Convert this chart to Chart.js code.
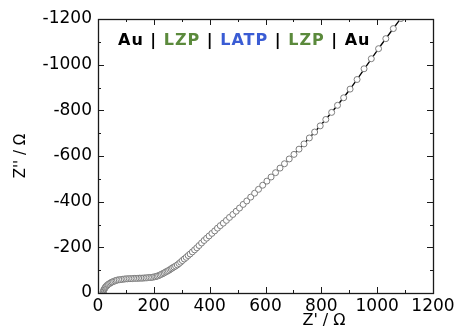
<!DOCTYPE html>
<html lang="en">
<head>
<meta charset="UTF-8">
<title>Nyquist plot</title>
<script src="https://cdn.jsdelivr.net/npm/chart.js"></script>
<style>
    html, body { margin: 0; padding: 0; background: #fff; }
    #wrap { width: 456px; height: 328px; }
</style>
</head>
<body>
<div id="wrap"><canvas id="nyquist" width="456" height="328"></canvas></div>
<script>
    // measured points, Z' (ohm)
    const zReal = [
        18, 19, 20, 21, 23, 25, 27, 29, 32, 35, 38, 42, 46, 50, 55, 60, 65, 70, 76, 82,
        88, 94, 100, 106, 112, 118, 124, 130, 136, 142, 148, 154, 160, 166, 172, 178, 184, 190, 196, 202,
        207, 212, 217, 222, 227, 232, 237, 242, 247, 252, 257, 262, 267, 272, 278, 284, 290, 296,
        302, 309, 316, 323, 330, 338, 346, 354, 362, 371, 380, 389, 398, 408, 418, 428, 438, 449, 460, 471, 483, 495,
        507, 520, 533, 547, 561, 575, 590, 605, 620, 636, 652, 668, 685,
        702, 720, 738, 757, 776, 796, 816, 837, 858, 880,
        903, 928, 953, 979, 1005, 1031, 1058, 1085
    ];
    // measured points, Z'' (ohm)
    const zImag = [
        -2, -6, -10, -14, -18, -22, -26, -29, -33, -36, -39, -42, -45, -48, -50, -53, -55, -57, -58, -59,
        -60, -61, -62, -62, -63, -63, -63, -64, -64, -64, -65, -65, -65, -66, -66, -67, -68, -68, -69, -71,
        -72, -74, -76, -79, -82, -85, -88, -92, -95, -98, -102, -106, -110, -114, -118, -123, -129, -135,
        -142, -149, -156, -164, -171, -180, -189, -198, -208, -219, -230, -240, -250, -261, -272, -284, -295, -306, -318, -331, -344, -358,
        -372, -388, -403, -420, -437, -454, -472, -490, -508, -527, -547, -566, -587,
        -607, -630, -653, -679, -705, -732, -760, -791, -822, -855,
        -893, -935, -982, -1026, -1070, -1114, -1158, -1202
    ];
    // fitted curve
    const fitReal = [300, 420, 500, 600, 700, 800, 900, 1000, 1100];
    const fitImag = [-140, -274, -364, -484, -605, -738, -888, -1062, -1228];

    const xTicks = [0, 200, 400, 600, 800, 1000, 1200];
    const yTicks = [-1200, -1000, -800, -600, -400, -200, 0];

    const cellLabel = [
        ['Au', '#000000'], [' | ', '#000000'], ['LZP', '#5b8a3c'], [' | ', '#000000'],
        ['LATP', '#3a5cd4'], [' | ', '#000000'], ['LZP', '#5b8a3c'], [' | ', '#000000'], ['Au', '#000000']
    ];

    const FONT = "'DejaVu Sans', sans-serif";

    const measured = zReal.map((v, i) => ({ x: v, y: zImag[i] }));
    const fitted = fitReal.map((v, i) => ({ x: v, y: fitImag[i] }));

    // frame with inward ticks on all four sides, plus the text bits
    const framePlugin = {
        id: 'frame',
        afterDraw(chart) {
            const ctx = chart.ctx;
            const a = chart.chartArea;
            const xs = chart.scales.x, ys = chart.scales.y;
            ctx.save();
            ctx.strokeStyle = '#1a1a1a';
            ctx.lineWidth = 1.3;
            ctx.strokeRect(a.left + 0.5, a.top + 0.5, a.right - a.left, a.bottom - a.top);

            ctx.lineWidth = 1;
            ctx.beginPath();
            for (let v = xTicks[0]; v <= xTicks[xTicks.length - 1]; v += 100) {
                const len = v % 200 === 0 ? 6 : 3;
                const px = Math.round(xs.getPixelForValue(v)) + 0.5;
                ctx.moveTo(px, a.bottom); ctx.lineTo(px, a.bottom - len);
                ctx.moveTo(px, a.top); ctx.lineTo(px, a.top + len);
            }
            for (let v = yTicks[0]; v <= yTicks[yTicks.length - 1]; v += 100) {
                const len = v % 200 === 0 ? 6 : 3;
                const py = Math.round(ys.getPixelForValue(v)) + 0.5;
                ctx.moveTo(a.left, py); ctx.lineTo(a.left + len, py);
                ctx.moveTo(a.right, py); ctx.lineTo(a.right - len, py);
            }
            ctx.stroke();

            // cell stack label
            ctx.font = 'bold 16px ' + FONT;
            ctx.textBaseline = 'alphabetic';
            if ('letterSpacing' in ctx) ctx.letterSpacing = '1px';
            let tx = a.left + 20;
            cellLabel.forEach(([t, c]) => {
                ctx.fillStyle = c;
                ctx.fillText(t, tx, a.top + 26);
                tx += ctx.measureText(t).width;
            });
            if ('letterSpacing' in ctx) ctx.letterSpacing = '0px';

            // x axis title sits right of centre in the original
            ctx.font = '16px ' + FONT;
            ctx.fillStyle = '#000';
            ctx.textAlign = 'center';
            ctx.textBaseline = 'middle';
            ctx.fillText("Z' / \u03A9", a.left + 226, 321);
            ctx.restore();
        }
    };

    new Chart(document.getElementById('nyquist'), {
        type: 'scatter',
        data: {
            datasets: [
                {
                    label: 'data',
                    data: measured,
                    order: 0,
                    pointStyle: 'circle',
                    pointRadius: 3,
                    pointBorderWidth: 1,
                    pointBorderColor: '#7d7d7d',
                    pointBackgroundColor: '#ffffff',
                    showLine: false
                },
                {
                    label: 'fit',
                    data: fitted,
                    order: 1,
                    showLine: true,
                    tension: 0.4,
                    borderColor: '#000000',
                    borderWidth: 1.3,
                    pointRadius: 0
                }
            ]
        },
        options: {
            responsive: false,
            animation: false,
            layout: { padding: { top: 19, right: 23, left: 0, bottom: 0 } },
            plugins: {
                legend: { display: false },
                tooltip: { enabled: false }
            },
            scales: {
                x: {
                    type: 'linear',
                    min: 0,
                    max: 1200,
                    afterBuildTicks: s => { s.ticks = xTicks.map(v => ({ value: v })); },
                    afterFit: s => {
                        s.height = 35;
                        s.paddingLeft = 0; s.paddingRight = 0;
                    },
                    grid: { display: false, drawTicks: false },
                    border: { display: false },
                    ticks: {
                        padding: 3,
                        color: '#000',
                        font: { family: FONT, size: 17 },
                        maxRotation: 0,
                        callback: v => String(v)
                    }
                },
                y: {
                    type: 'linear',
                    reverse: true,
                    min: -1200,
                    max: 0,
                    afterBuildTicks: s => { s.ticks = yTicks.map(v => ({ value: v })); },
                    afterFit: s => {
                        s.width = 98;
                        s.paddingTop = 0; s.paddingBottom = 0;
                    },
                    grid: { display: false, drawTicks: false },
                    border: { display: false },
                    title: {
                        display: true,
                        text: "Z'' / \u03A9",
                        color: '#000',
                        font: { family: FONT, size: 15, lineHeight: 1 },
                        padding: { top: 14, bottom: 0 }
                    },
                    ticks: {
                        padding: 6,
                        color: '#000',
                        font: { family: FONT, size: 17 },
                        callback: v => String(v)
                    }
                }
            }
        },
        plugins: [framePlugin]
    });
</script>
</body>
</html>
